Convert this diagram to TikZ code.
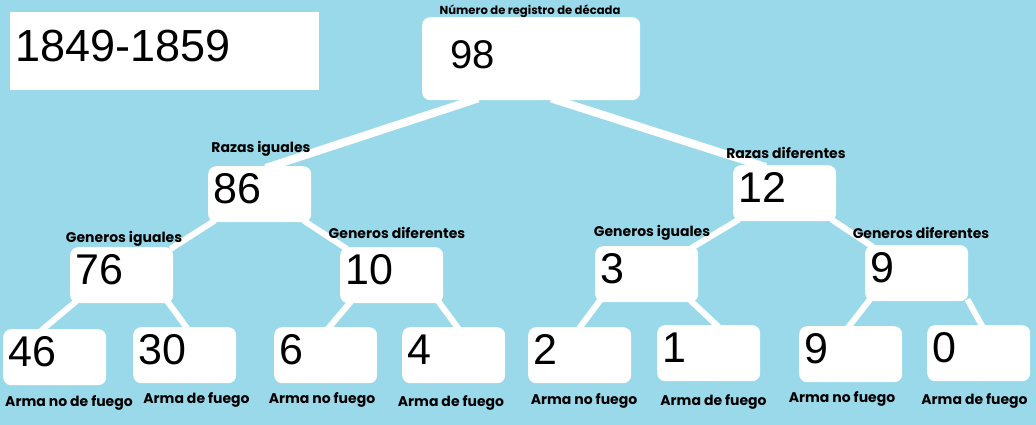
\documentclass[tikz,border=0pt]{standalone}
\usepackage{fontspec}
\setmainfont{Liberation Sans}
\newfontfamily\labelfont{Poppins}
\usetikzlibrary{calc}
\definecolor{bgblue}{RGB}{153,217,234}
\pgfdeclarelayer{bglayer}
\pgfdeclarelayer{linklayer}
\pgfsetlayers{bglayer,linklayer,main}
\begin{document}
\begin{tikzpicture}[x=1pt,y=-1pt,
  box/.style={fill=white, rounded corners=8pt, anchor=north west, inner xsep=5pt, inner ysep=0pt,
    align=left, text width=93pt, text height=37pt, text depth=19pt,
    font=\fontsize{43}{43}\selectfont},
  rootbox/.style={box, inner xsep=28pt, text width=162pt, text height=51.6pt, text depth=31.4pt,
    font=\fontsize{40}{40}\selectfont},
  titlebox/.style={fill=white, anchor=north west, inner xsep=5pt, inner ysep=0pt, align=left,
    text width=299pt, text height=49pt, text depth=29pt, font=\fontsize{45}{45}\selectfont},
  lbl/.style={anchor=base, inner sep=0pt, font=\labelfont\bfseries\fontsize{14}{14}\selectfont},
  toplbl/.style={lbl, font=\labelfont\bfseries\fontsize{11.6}{11.6}\selectfont},
  link/.style={draw=white, line width=6pt},
  rootlink/.style={link, line width=8pt}]

\begin{pgfonlayer}{bglayer}
  \fill[bgblue] (0,0) rectangle (1036,425);
\end{pgfonlayer}
\useasboundingbox (0,0) rectangle (1036,425);

% title
\node[titlebox] (title) at (10,12) {1849-1859};

% boxes
\node[rootbox] (root) at (422,17) {98};
\node[box] (n86) at (208,166) {86};
\node[box] (n12) at (733,165) {12};
\node[box] (n76) at (70,247) {76};
\node[box] (n10) at (340,247) {10};
\node[box] (n3)  at (595,246) {3};
\node[box] (n9)  at (865,245) {9};
\node[box] (n46) at (3,329) {46};
\node[box] (n30) at (133,327) {30};
\node[box] (n6)  at (274,327) {6};
\node[box] (n4)  at (402,327) {4};
\node[box] (n2)  at (528,327) {2};
\node[box] (n1)  at (657,325) {1};
\node[box] (n9b) at (799,326) {9};
\node[box] (n0)  at (927,325) {0};

% labels
\node[toplbl] (lroot) at (530,15) {Número de registro de década};
\node[lbl] (l86) at (261,153) {Razas iguales};
\node[lbl] (l12) at (786,158) {Razas diferentes};
\node[lbl] (l76) at (124,242) {Generos iguales};
\node[lbl] (l10) at (397,238) {Generos diferentes};
\node[lbl] (l3)  at (652,236) {Generos iguales};
\node[lbl] (l9)  at (921,238) {Generos diferentes};
\node[lbl] (l46) at (69,406) {Arma no de fuego};
\node[lbl] (l30) at (196.5,403) {Arma de fuego};
\node[lbl] (l6)  at (322,403) {Arma no fuego};
\node[lbl] (l4)  at (451,406) {Arma de fuego};
\node[lbl] (l2)  at (584,404) {Arma no fuego};
\node[lbl] (l1)  at (713.5,405) {Arma de fuego};
\node[lbl] (l9b) at (842,402) {Arma no fuego};
\node[lbl] (l0)  at (974.5,404) {Arma de fuego};

% connectors
\begin{pgfonlayer}{linklayer}
  \draw[rootlink] ($(root.south)+(-53,-2)$) -- ($(n86.north)+(6,2)$);
  \draw[rootlink] ($(root.south)+(20,-2)$) -- ($(n12.north)+(-19,2)$);
  \draw[link] ($(n86.south west)+(7,-2)$) -- ($(n76.north east)+(-3,2)$);
  \draw[link] ($(n86.south east)+(-8,-2)$) -- ($(n10.north west)+(7,2)$);
  \draw[link] ($(n12.south west)+(6,-2)$) -- ($(n3.north east)+(-7,2)$);
  \draw[link] ($(n12.south east)+(-5,-2)$) -- ($(n9.north west)+(8,2)$);
  \draw[link] ($(n76.south west)+(6,-2)$) -- ($(n46.north)+(-14,2)$);
  \draw[link] ($(n76.south east)+(-6,-2)$) -- ($(n30.north)+(3,2)$);
  \draw[link] ($(n10.south west)+(11,-2)$) -- ($(n6.north)+(2,2)$);
  \draw[link] ($(n10.south east)+(-5,-2)$) -- ($(n4.north)+(5,2)$);
  \draw[link] ($(n3.south west)+(5,-2)$) -- ($(n2.north)+(-1,2)$);
  \draw[link] ($(n3.south east)+(-8,-2)$) -- ($(n1.north)+(10,2)$);
  \draw[link] ($(n9.south west)+(5,-2)$) -- ($(n9b.north)+(-3,2)$);
  \draw[link] ($(n9.south east)+(-1,-2)$) -- ($(n0.north)+(4,2)$);
\end{pgfonlayer}
\end{tikzpicture}
\end{document}
